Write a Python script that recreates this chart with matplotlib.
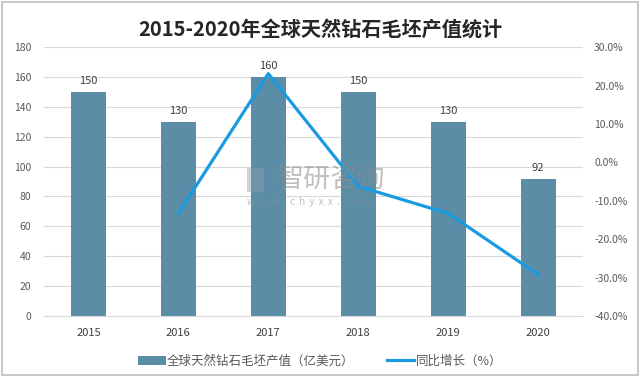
import numpy as np
import matplotlib
matplotlib.use("Agg")
import matplotlib.pyplot as plt
from matplotlib.patches import Rectangle

plt.rcParams["font.family"] = ["Noto Sans CJK SC", "DejaVu Sans"]

years = ["2015", "2016", "2017", "2018", "2019", "2020"]
output_value = [150, 130, 160, 150, 130, 92]
yoy_years = ["2016", "2017", "2018", "2019", "2020"]
yoy_pct = [-13.3, 23.1, -6.25, -13.3, -29.2]

BAR = "#5b8ea6"
LINE = "#1a9ae0"
TXT = "#595959"

fig = plt.figure(figsize=(6.4, 3.77), dpi=100)
ax = fig.add_axes([0.068, 0.162, 0.843, 0.713])
x = np.arange(len(years))
ax.bar(x, output_value, width=0.39, color=BAR, zorder=2,
       label="全球天然钻石毛坯产值（亿美元）")
for xi, v in zip(x, output_value):
    ax.text(xi, v + 4, f"{v}", ha="center", va="bottom", fontsize=8, color="#404040")
ax.set_ylim(0, 180)
ax.set_yticks(range(0, 181, 20))
ax.set_xlim(-0.5, len(years) - 0.5)
ax.set_xticks(x)
ax.set_xticklabels(years)
ax.grid(axis="y", color="#d9d9d9", lw=0.8, zorder=0)
for s in ax.spines.values():
    s.set_visible(False)
ax.spines["bottom"].set_visible(True)
ax.spines["bottom"].set_color("#d9d9d9")
ax.tick_params(axis="both", length=0, labelsize=7.5, colors=TXT)
ax.tick_params(axis="y", pad=9)
ax.tick_params(axis="x", labelcolor="#404040", labelsize=8, pad=9)

ax2 = ax.twinx()
xl = [years.index(y) for y in yoy_years]
ax2.plot(xl, yoy_pct, color=LINE, lw=2.3, zorder=3, label="同比增长（%）")
ax2.set_ylim(-40, 30)
ax2.set_yticks(range(-40, 31, 10))
ax2.set_yticklabels([f"{t:.1f}%" for t in range(-40, 31, 10)])
for s in ax2.spines.values():
    s.set_visible(False)
ax2.tick_params(axis="y", length=0, labelsize=7.5, colors=TXT, pad=8)

fig.text(0.5, 0.922, "2015-2020年全球天然钻石毛坯产值统计", ha="center", va="center",
         fontsize=14.5, fontweight="bold", color="#262626")

h1, l1 = ax.get_legend_handles_labels()
h2, l2 = ax2.get_legend_handles_labels()
fig.legend(h1 + h2, l1 + l2, loc="center", bbox_to_anchor=(0.5, 0.042), ncol=2,
           frameon=False, fontsize=9, labelcolor=TXT, handlelength=2.2,
           handletextpad=0.1, columnspacing=2.6)

# watermark
fig.text(0.432, 0.523, "智研咨询", fontsize=19.5, color="#8c8c8c", alpha=0.55,
         ha="left", va="center")
fig.text(0.386, 0.463, "w  w  w  .  c  h  y  x  x  .  c  o  m", fontsize=7,
         color="#8c8c8c", alpha=0.55, ha="left", va="center")
fig.patches.append(Rectangle((0.386, 0.49), 0.027, 0.064, transform=fig.transFigure,
                             facecolor="#8a9bb0", alpha=0.45, edgecolor="none"))

fig.patches.append(Rectangle((0.003, 0.004), 0.994, 0.99, transform=fig.transFigure,
                             facecolor="none", edgecolor="#bfbfbf", lw=1.2))

fig.savefig("out.png", dpi=100)
